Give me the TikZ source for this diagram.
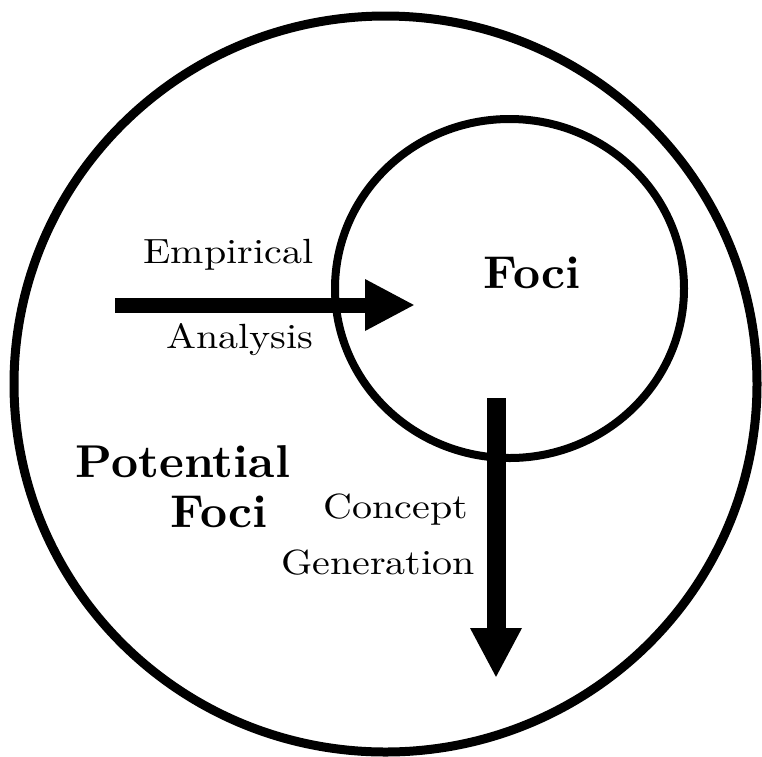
\documentclass[tikz,border=0pt]{standalone}
\usepackage{fontspec}
\usepackage{graphicx}
\usetikzlibrary{arrows.meta}

% labels are set at 10pt and blown up, a bit wider than tall
\newcommand{\plainlbl}[1]{\scalebox{4.0}[3.5]{#1}}
\newcommand{\heavylbl}[1]{\scalebox{4.7}[4.6]{\bfseries #1}}

\tikzset{
  txt/.style={anchor=base,inner sep=0pt,font=\fontsize{10}{12}\selectfont},
  flow/.style={line width=#1,-{Triangle[length=50pt,width=48pt]}},
  flow/.default=16pt
}

\begin{document}
\begin{tikzpicture}[x=1pt,y=-1pt]
\useasboundingbox (0,0) rectangle (762,756);

% outer and inner region
\draw[line width=9pt] (385.5,384) ellipse (371.5 and 368);
\draw[line width=8pt] (509.5,288.5) ellipse (174.5 and 169.5);

% labels
\node[txt] (foci) at (532,288) {\heavylbl{Foci}};
\node[txt] (potential) at (183,477) {\heavylbl{Potential}};
\node[txt] (pfoci) at (219,527) {\heavylbl{Foci}};
\node[txt] (empirical) at (228.5,263) {\plainlbl{Empirical}};
\node[txt] (analysis) at (240,348) {\plainlbl{Analysis}};
\node[txt] (concept) at (396,518) {\plainlbl{Concept}};
\node[txt] (generation) at (378,574) {\plainlbl{Generation}};

% the two arrows
\coordinate (ea-start) at (115,305);
\coordinate (ea-end) at (415,305);
\coordinate (cg-start) at (496,398);
\coordinate (cg-end) at (496,678);
\draw[flow=15pt] (ea-start) -- (ea-end);
\draw[flow=19pt] (cg-start) -- (cg-end);
\end{tikzpicture}
\end{document}
